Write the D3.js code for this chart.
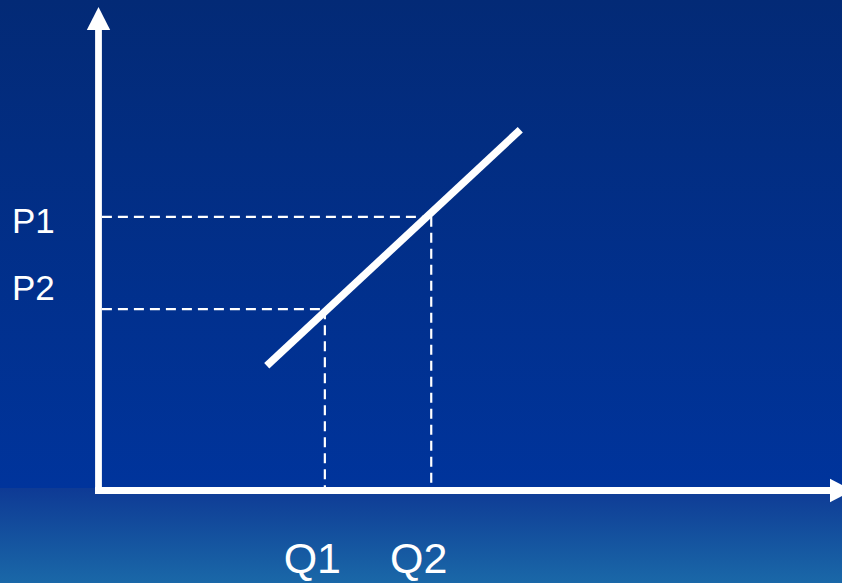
<!DOCTYPE html>
<html>
<head>
<meta charset="utf-8">
<script src="https://cdn.jsdelivr.net/npm/d3@7"></script>
<style>
  html, body { margin: 0; padding: 0; background: #00339a; }
  svg { display: block; }
</style>
</head>
<body>
<div id="chart"></div>
<script>
// Supply curve: price rises with quantity supplied
const supplyPoints = [
  { q: 22.3, p: 25.8 },
  { q: 55.9, p: 74.6 }
];
// Price levels and the quantities supplied at them
const priceLabels = ["P1", "P2"];
const priceValues = [56.6, 37.5];
const quantityLabels = ["Q1", "Q2"];
const quantityValues = [30.0, 44.1];
// P1 pairs with Q2, P2 pairs with Q1
const pairs = [
  { p: 56.6, q: 44.1 },
  { p: 37.5, q: 30.0 }
];

const W = 842, H = 583;
const svg = d3.select("#chart").append("svg")
  .attr("width", W).attr("height", H)
  .attr("viewBox", `0 0 ${W} ${H}`);

const defs = svg.append("defs");
const gTop = defs.append("linearGradient").attr("id", "bgTop")
  .attr("x1", 0).attr("y1", 0).attr("x2", 0).attr("y2", 1);
gTop.append("stop").attr("offset", "0%").attr("stop-color", "#032a76");
gTop.append("stop").attr("offset", "100%").attr("stop-color", "#00349c");
const gBot = defs.append("linearGradient").attr("id", "bgBot")
  .attr("x1", 0).attr("y1", 0).attr("x2", 0).attr("y2", 1);
gBot.append("stop").attr("offset", "0%").attr("stop-color", "#0e3a95");
gBot.append("stop").attr("offset", "100%").attr("stop-color", "#1a68a8");

const bandY = 488;
svg.append("rect").attr("x", 0).attr("y", 0).attr("width", W).attr("height", bandY)
  .attr("fill", "url(#bgTop)");
svg.append("rect").attr("x", 0).attr("y", bandY).attr("width", W).attr("height", H - bandY)
  .attr("fill", "url(#bgBot)");

// Scales: domain maxima sit at the arrow tips
const x = d3.scaleLinear().domain([0, 100]).range([98.5, 853]);
const y = d3.scaleLinear().domain([0, 100]).range([490.5, 7]);

const white = "#ffffff";
const axisW = 6.8;
const headLen = 23, headHalf = 11.7;

// Axes
svg.append("line")
  .attr("x1", x(0)).attr("y1", y(0) + axisW / 2)
  .attr("x2", x(0)).attr("y2", y(100) + headLen)
  .attr("stroke", white).attr("stroke-width", axisW);
svg.append("line")
  .attr("x1", x(0) - axisW / 2).attr("y1", y(0))
  .attr("x2", x(100) - headLen).attr("y2", y(0))
  .attr("stroke", white).attr("stroke-width", axisW);

// Arrow heads
svg.append("path")
  .attr("d", `M${x(0)},${y(100)} L${x(0) + headHalf},${y(100) + headLen} L${x(0) - headHalf},${y(100) + headLen} Z`)
  .attr("fill", white);
svg.append("path")
  .attr("d", `M${x(100)},${y(0)} L${x(100) - headLen},${y(0) - headHalf} L${x(100) - headLen},${y(0) + headHalf} Z`)
  .attr("fill", white);

// Dashed guide lines
const guides = svg.append("g").attr("stroke", white).attr("stroke-width", 2.2)
  .attr("stroke-dasharray", "10,6").attr("fill", "none");
pairs.forEach(d => {
  guides.append("line")
    .attr("x1", x(0) + axisW / 2).attr("y1", y(d.p))
    .attr("x2", x(d.q)).attr("y2", y(d.p));
  guides.append("line")
    .attr("x1", x(d.q)).attr("y1", y(d.p))
    .attr("x2", x(d.q)).attr("y2", y(0) - axisW / 2);
});

// Supply line
svg.append("path")
  .datum(supplyPoints)
  .attr("d", d3.line().x(d => x(d.q)).y(d => y(d.p)))
  .attr("stroke", white).attr("stroke-width", 7.5)
  .attr("stroke-linecap", "butt").attr("fill", "none");

// Labels
const font = "'Liberation Sans', Arial, sans-serif";
const pLabelBaselines = [233, 300];
svg.selectAll("text.plabel").data(priceLabels).enter().append("text")
  .attr("class", "plabel")
  .attr("x", 12).attr("y", (d, i) => pLabelBaselines[i])
  .attr("fill", white).attr("font-family", font).attr("font-size", 35)
  .text(d => d);
svg.selectAll("text.qlabel").data(quantityLabels).enter().append("text")
  .attr("class", "qlabel")
  .attr("x", (d, i) => x(quantityValues[i]) - 12.5).attr("y", 573)
  .attr("text-anchor", "middle")
  .attr("fill", white).attr("font-family", font).attr("font-size", 43)
  .text(d => d);
</script>
</body>
</html>
